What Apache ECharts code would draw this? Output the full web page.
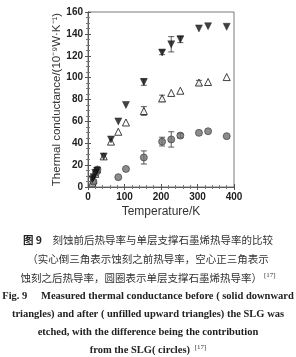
<!DOCTYPE html>
<html><head><meta charset="utf-8">
<script src="https://cdn.jsdelivr.net/npm/echarts@6/dist/echarts.min.js"></script>
<style>html,body{margin:0;padding:0;background:#fff}#c{width:296px;height:357px}</style>
</head><body><div id="c"></div>
<script>
// Solid downward triangles (before etching)
const beforeT = [12, 15, 20, 25, 43, 63, 83, 104, 153, 203, 228, 253, 304, 329, 380];
const beforeG = [7, 9, 13, 15, 28, 43.5, 60, 75, 96, 123, 130.5, 135, 145, 147, 146.5];
const beforeErr = [0, 0, 0, 0, 0, 0, 0, 0, 3, 2, 7, 3, 1, 1, 1];
// Open upward triangles (after etching)
const afterT = [12, 15, 20, 25, 43, 63, 83, 104, 153, 203, 228, 253, 304, 329, 380];
const afterG = [4, 6, 12, 16, 28, 41.5, 50.5, 59, 69.5, 81, 86, 88, 95.5, 96, 100.5];
const afterErr = [0, 0, 0, 0, 0, 0, 0, 0, 4, 3, 1, 1, 2, 1, 1];
// Circles (SLG contribution)
const slgT = [15, 22, 26, 83, 104, 153, 203, 228, 253, 304, 329, 380];
const slgG = [5, 13, 16, 9, 16.5, 27, 41.5, 43.5, 47, 49.5, 51, 46.5];
const slgErr = [0, 0, 0, 0, 0, 6, 4, 7, 2, 1, 1, 1];
const xTicks = [0, 100, 200, 300, 400];
const yTicks = [0, 20, 40, 60, 80, 100, 120, 140, 160];

const captionZh = [
  '{b|图 9}　刻蚀前后热导率与单层支撑石墨烯热导率的比较',
  '（实心倒三角表示蚀刻之前热导率，空心正三角表示',
  '蚀刻之后热导率，圆圈表示单层支撑石墨烯热导率）{s|[17]}'
];
const captionEn = [
  'Fig. 9　 Measured thermal conductance before ( solid downward',
  'triangles) and after ( unfilled upward triangles) the SLG was',
  'etched, with the difference being the contribution',
  'from the SLG( circles) {s|[17]}'
];

function pairs(xs, ys) { return xs.map((x, i) => [x, ys[i]]); }
function errData(xs, ys, es) {
  return xs.map((x, i) => [x, ys[i] - es[i], ys[i] + es[i]]).filter((d, i) => es[i] > 1.5);
}
function errSeries(data) {
  return {
    type: 'custom', z: 1, silent: true,
    renderItem: function (params, api) {
      const x = api.value(0);
      const lo = api.coord([x, api.value(1)]);
      const hi = api.coord([x, api.value(2)]);
      const w = 3;
      const st = { stroke: '#333', lineWidth: 0.8 };
      return {
        type: 'group', children: [
          { type: 'line', shape: { x1: lo[0], y1: lo[1], x2: hi[0], y2: hi[1] }, style: st },
          { type: 'line', shape: { x1: lo[0] - w, y1: lo[1], x2: lo[0] + w, y2: lo[1] }, style: st },
          { type: 'line', shape: { x1: hi[0] - w, y1: hi[1], x2: hi[0] + w, y2: hi[1] }, style: st }
        ]
      };
    },
    encode: { x: 0, y: [1, 2] },
    data: data
  };
}

const zhFont = 'Noto Sans CJK SC, sans-serif';
const enFont = 'Liberation Serif, Times New Roman, serif';
const sup = { fontSize: 7, verticalAlign: 'top', padding: [0, 0, 6, 2], fill: '#333' };
const graphics = [];
captionZh.forEach((t, i) => {
  graphics.push({ type: 'text', x: 148, y: 240 + i * 19, style: {
    text: t, textAlign: 'center', textVerticalAlign: 'middle', font: '10.5px ' + zhFont, fill: '#333',
    rich: { b: { fontFamily: zhFont, fontWeight: 'bold', fontSize: 10.5, fill: '#222' }, s: Object.assign({ fontFamily: enFont }, sup) }
  } });
});
captionEn.forEach((t, i) => {
  graphics.push({ type: 'text', x: 148, y: 296 + i * 18, style: {
    text: t, textAlign: 'center', textVerticalAlign: 'middle', font: 'bold 10.5px ' + enFont, fill: '#222',
    rich: { s: Object.assign({ fontFamily: enFont, fontWeight: 'normal' }, sup) }
  } });
});

const chart = echarts.init(document.getElementById('c'), null, { renderer: 'canvas' });
const tickLbl = { fontFamily: 'Liberation Sans, Arial, sans-serif', fontWeight: 'bold', fontSize: 10, color: '#222' };
const axLine = { show: true, lineStyle: { color: '#555', width: 0.8 } };
const axTick = { inside: true, length: 3, lineStyle: { color: '#555' } };
chart.setOption({
  animation: false,
  backgroundColor: '#fff',
  grid: { left: 88, right: 62, top: 12, bottom: 170, show: true, borderColor: '#555', borderWidth: 0.8 },
  xAxis: [{
    type: 'value', min: 0, max: 400, interval: 100,
    name: 'Temperature/K', nameLocation: 'middle', nameGap: 19,
    nameTextStyle: { fontFamily: 'Liberation Sans, Arial, sans-serif', fontSize: 12, color: '#333' },
    axisLine: axLine, axisTick: axTick,
    minorTick: { show: true, splitNumber: 5, length: 2, lineStyle: { color: '#777' } },
    axisLabel: Object.assign({ margin: 5 }, tickLbl),
    splitLine: { show: false }
  }, {
    type: 'value', min: 0, max: 400, interval: 100, position: 'top',
    axisLine: axLine, axisTick: axTick,
    minorTick: { show: true, splitNumber: 5, length: 2, lineStyle: { color: '#777' } },
    axisLabel: { show: false }, splitLine: { show: false }
  }],
  yAxis: [{
    type: 'value', min: 0, max: 160, interval: 20,
    name: 'Thermal conductance/(10⁻⁹W·K⁻¹)', nameLocation: 'middle', nameGap: 24,
    nameTextStyle: { fontFamily: 'Liberation Sans, Arial, sans-serif', fontSize: 11.5, color: '#333' },
    axisLine: axLine, axisTick: axTick,
    minorTick: { show: true, splitNumber: 4, length: 2, lineStyle: { color: '#777' } },
    axisLabel: Object.assign({ margin: 5 }, tickLbl),
    splitLine: { show: false }
  }, {
    type: 'value', min: 0, max: 160, interval: 20, position: 'right',
    axisLine: axLine, axisTick: axTick,
    minorTick: { show: true, splitNumber: 4, length: 2, lineStyle: { color: '#777' } },
    axisLabel: { show: false }, splitLine: { show: false }
  }],
  graphic: graphics,
  series: [
    errSeries(errData(beforeT, beforeG, beforeErr)),
    errSeries(errData(afterT, afterG, afterErr)),
    errSeries(errData(slgT, slgG, slgErr)),
    { type: 'scatter', name: 'after', data: pairs(afterT, afterG), symbol: 'triangle', symbolSize: 7, z: 3,
      itemStyle: { color: '#fff', borderColor: '#111', borderWidth: 1 } },
    { type: 'scatter', name: 'before', data: pairs(beforeT, beforeG), symbol: 'triangle', symbolRotate: 180, symbolSize: 7, z: 4,
      itemStyle: { color: '#111', borderColor: '#111', borderWidth: 0.5 } },
    { type: 'scatter', name: 'slg', data: pairs(slgT, slgG), symbol: 'circle', symbolSize: 7, z: 3,
      itemStyle: { color: '#6f6f6f', borderColor: '#333', borderWidth: 0.8 } }
  ]
});
</script></body></html>
